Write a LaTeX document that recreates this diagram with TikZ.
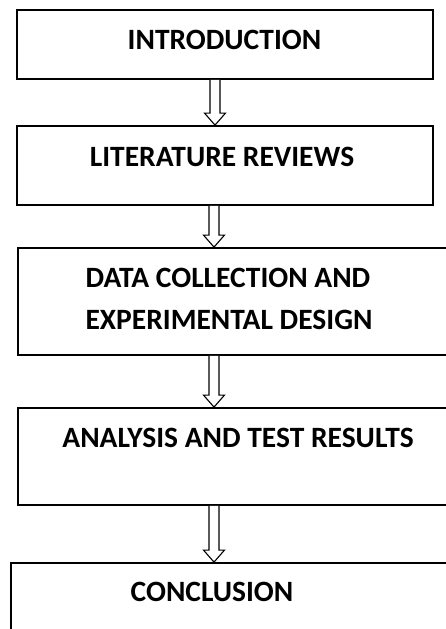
\documentclass[tikz,border=0pt]{standalone}
\usepackage{fontspec}
\setmainfont{Carlito}
\usetikzlibrary{calc}
\tikzset{
  box/.style={draw=black, line width=1.8pt, inner sep=0pt},
  caption/.style={font=\bfseries\fontsize{29.5}{34}\selectfont, anchor=base, inner sep=0pt},
  flow/.style={draw=black, line width=1.1pt, fill=white, line join=miter},
}
% hollow block arrow from the bottom of #1 to the top of #2, on the vertical line x = #3
\newcommand\flowarrow[3]{%
  \draw[flow] let \p1=(#1.south), \p2=(#2.north) in
    (#3pt-5pt,\y1) -- (#3pt-5pt,\y2+12pt) -- (#3pt-10.5pt,\y2+12pt) -- (#3pt,\y2)
    -- (#3pt+10.5pt,\y2+12pt) -- (#3pt+5pt,\y2+12pt) -- (#3pt+5pt,\y1);
}
\begin{document}
\begin{tikzpicture}[x=1pt,y=-1pt]
  \useasboundingbox (0,0) rectangle (446,629);
  \clip (0,0) rectangle (446,629);
  % process boxes
  \node[box, minimum width=416pt, minimum height=69pt] (b1) at (225,44.5) {};
  \node[box, minimum width=416pt, minimum height=79pt] (b2) at (225,165.5) {};
  \node[box, minimum width=440pt, minimum height=107pt] (b3) at (238,301.5) {};
  \node[box, minimum width=440pt, minimum height=97pt] (b4) at (238,456.5) {};
  \node[box, minimum width=440pt, minimum height=120pt] (b5) at (231,623) {};
  % box captions
  \node[caption] (t1) at (224.5,49) {INTRODUCTION};
  \node[caption] (t2) at (222,166) {LITERATURE REVIEWS};
  \node[caption] (t3a) at (228,287) {DATA COLLECTION AND};
  \node[caption] (t3b) at (229,329) {EXPERIMENTAL DESIGN};
  \node[caption] (t4) at (238,447) {ANALYSIS AND TEST RESULTS};
  \node[caption] (t5) at (212,601) {CONCLUSION};
  % arrows between stages
  \flowarrow{b1}{b2}{215}
  \flowarrow{b2}{b3}{214}
  \flowarrow{b3}{b4}{214}
  \flowarrow{b4}{b5}{214}
\end{tikzpicture}
\end{document}
